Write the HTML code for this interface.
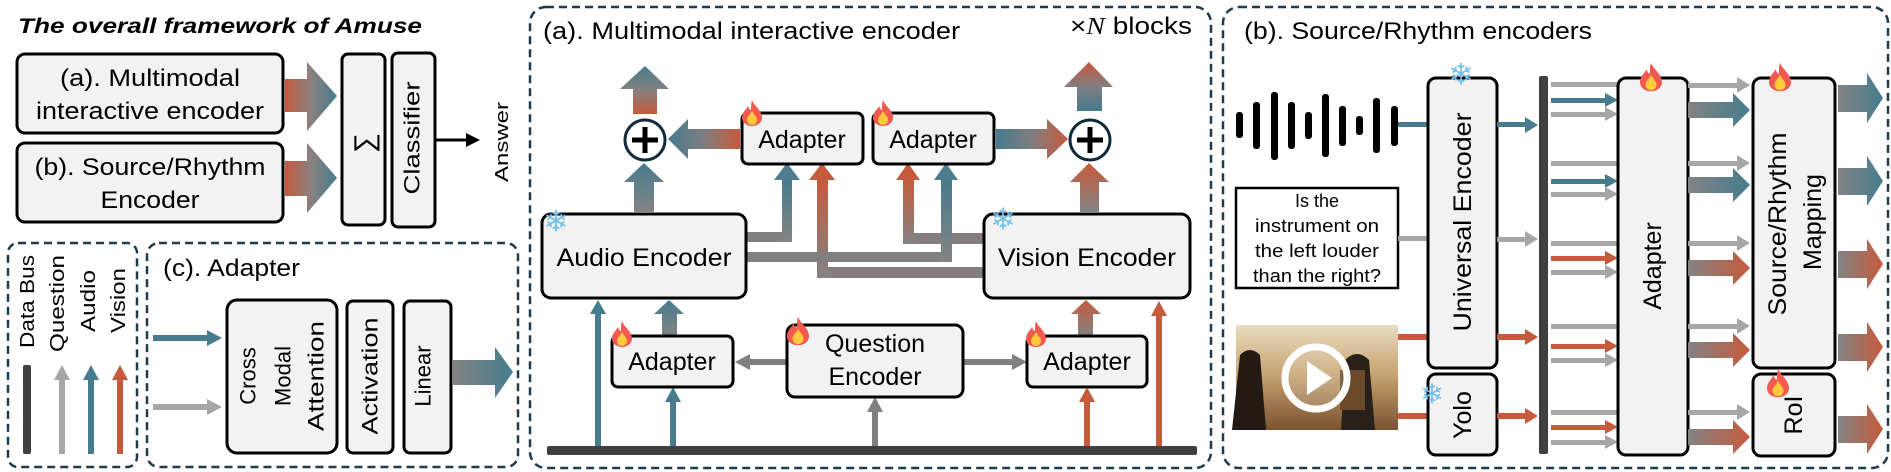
<!DOCTYPE html>
<html><head><meta charset="utf-8"><style>
html,body{margin:0;padding:0;background:#fff;}
svg{display:block;font-family:"Liberation Sans",sans-serif;}
</style></head><body>
<svg width="1891" height="472" viewBox="0 0 1891 472" xmlns="http://www.w3.org/2000/svg">
<defs>
<linearGradient id="hOT" x1="0" y1="0" x2="1" y2="0"><stop offset="0" stop-color="#c65a3c"/><stop offset="0.5" stop-color="#8a8080"/><stop offset="1" stop-color="#467c8e"/></linearGradient>
<linearGradient id="hGT" x1="0" y1="0" x2="1" y2="0"><stop offset="0" stop-color="#838383"/><stop offset="1" stop-color="#467c8e"/></linearGradient>
<linearGradient id="hGO" x1="0" y1="0" x2="1" y2="0"><stop offset="0" stop-color="#838383"/><stop offset="1" stop-color="#c65a3c"/></linearGradient>
<linearGradient id="hTO" x1="0" y1="0" x2="1" y2="0"><stop offset="0" stop-color="#467c8e"/><stop offset="0.5" stop-color="#7f7d80"/><stop offset="1" stop-color="#c65a3c"/></linearGradient>
<linearGradient id="vGT" x1="0" y1="1" x2="0" y2="0"><stop offset="0" stop-color="#838383"/><stop offset="1" stop-color="#467c8e"/></linearGradient>
<linearGradient id="vGO" x1="0" y1="1" x2="0" y2="0"><stop offset="0" stop-color="#838383"/><stop offset="1" stop-color="#c65a3c"/></linearGradient>
<linearGradient id="vOT" x1="0" y1="1" x2="0" y2="0"><stop offset="0" stop-color="#c65a3c"/><stop offset="0.5" stop-color="#868080"/><stop offset="1" stop-color="#467c8e"/></linearGradient>
<linearGradient id="vTO" x1="0" y1="1" x2="0" y2="0"><stop offset="0" stop-color="#467c8e"/><stop offset="0.5" stop-color="#807d80"/><stop offset="1" stop-color="#c65a3c"/></linearGradient>
<linearGradient id="vid" x1="0" y1="0" x2="0" y2="1"><stop offset="0" stop-color="#e8dcc0"/><stop offset="0.45" stop-color="#c9a674"/><stop offset="1" stop-color="#7a5330"/></linearGradient>
<symbol id="fire" viewBox="0 0 20 26"><path d="M10 0 C12 6 20 10 20 18 A10 8 0 0 1 0 18 C0 12 4 10 6 6 C7 9 8 10 9 10 C9 6 9 3 10 0Z" fill="#f25a50"/><path d="M10 11 C12 15 15 17 15 20 A5 5 0 0 1 5 20 C5 17 8 15 10 11Z" fill="#ffc93c"/></symbol>
</defs>

<text x="18" y="33" font-size="21" font-weight="bold" font-style="italic" textLength="404" lengthAdjust="spacingAndGlyphs">The overall framework of Amuse</text>
<rect x="17" y="54" width="266" height="79" rx="8" fill="#f2f2f2" stroke="#000" stroke-width="3"/>
<text x="150" y="86" font-size="24" text-anchor="middle" textLength="180" lengthAdjust="spacingAndGlyphs">(a). Multimodal</text>
<text x="150" y="119" font-size="24" text-anchor="middle" textLength="228" lengthAdjust="spacingAndGlyphs">interactive encoder</text>
<rect x="17" y="143" width="266" height="79" rx="8" fill="#f2f2f2" stroke="#000" stroke-width="3"/>
<text x="150" y="175" font-size="24" text-anchor="middle" textLength="231" lengthAdjust="spacingAndGlyphs">(b). Source/Rhythm</text>
<text x="150" y="208" font-size="24" text-anchor="middle" textLength="99" lengthAdjust="spacingAndGlyphs">Encoder</text>
<polygon points="285,79 307,79 307,62 337,96 307,131 307,112 285,112" fill="url(#hOT)"/>
<polygon points="285,161 307,161 307,143 337,178 307,213 307,196 285,196" fill="url(#hOT)"/>
<rect x="342" y="54" width="43" height="171" rx="6" fill="#f2f2f2" stroke="#000" stroke-width="3"/>
<text x="364" y="143" font-size="28" text-anchor="middle" dominant-baseline="central" transform="rotate(-90 364 143)">∑</text>
<rect x="392" y="53" width="43" height="174" rx="6" fill="#f2f2f2" stroke="#000" stroke-width="3"/>
<text x="412" y="138" font-size="22" text-anchor="middle" dominant-baseline="central" transform="rotate(-90 412 138)" textLength="113" lengthAdjust="spacingAndGlyphs">Classifier</text>
<line x1="435" y1="140" x2="468" y2="140" stroke="#000" stroke-width="3"/>
<polygon points="466,133 480,140 466,147" fill="#000"/>
<text x="502" y="142" font-size="18" text-anchor="middle" dominant-baseline="central" transform="rotate(-90 502 142)" textLength="80" lengthAdjust="spacingAndGlyphs">Answer</text>

<rect x="8" y="243" width="129" height="224" rx="10" fill="none" stroke="#1f3b4d" stroke-width="2.5" stroke-dasharray="8 5"/>
<text x="28" y="348" font-size="20" dominant-baseline="central" transform="rotate(-90 28 348)" textLength="93" lengthAdjust="spacingAndGlyphs">Data Bus</text>
<text x="58" y="352" font-size="20" dominant-baseline="central" transform="rotate(-90 58 352)" textLength="97" lengthAdjust="spacingAndGlyphs">Question</text>
<text x="89" y="332" font-size="20" dominant-baseline="central" transform="rotate(-90 89 332)" textLength="62" lengthAdjust="spacingAndGlyphs">Audio</text>
<text x="119" y="333" font-size="20" dominant-baseline="central" transform="rotate(-90 119 333)" textLength="65" lengthAdjust="spacingAndGlyphs">Vision</text>
<rect x="23" y="365" width="8" height="89" rx="2" fill="#404040"/>
<rect x="59" y="378" width="6" height="76" fill="#a6a6a6"/><polygon points="54,380 62,365 70,380" fill="#a6a6a6"/>
<rect x="88" y="378" width="6" height="76" fill="#467c8e"/><polygon points="83,380 91,365 99,380" fill="#467c8e"/>
<rect x="117" y="378" width="6" height="76" fill="#c65a3c"/><polygon points="112,380 120,365 128,380" fill="#c65a3c"/>

<rect x="147" y="243" width="371" height="224" rx="12" fill="none" stroke="#1f3b4d" stroke-width="2.5" stroke-dasharray="8 5"/>
<text x="163" y="276" font-size="24" textLength="137" lengthAdjust="spacingAndGlyphs">(c). Adapter</text>
<rect x="153" y="335" width="56" height="6" fill="#467c8e"/><polygon points="207,330 222,338 207,346" fill="#467c8e"/>
<rect x="153" y="404" width="56" height="6" fill="#a6a6a6"/><polygon points="207,399 222,407 207,415" fill="#a6a6a6"/>
<rect x="227" y="300" width="110" height="153" rx="10" fill="#f2f2f2" stroke="#000" stroke-width="3"/>
<text x="248" y="376" font-size="22" text-anchor="middle" dominant-baseline="central" transform="rotate(-90 248 376)">Cross</text>
<text x="283" y="376" font-size="22" text-anchor="middle" dominant-baseline="central" transform="rotate(-90 283 376)">Modal</text>
<text x="316" y="376" font-size="22" text-anchor="middle" dominant-baseline="central" transform="rotate(-90 316 376)" textLength="110" lengthAdjust="spacingAndGlyphs">Attention</text>
<rect x="347" y="301" width="46" height="152" rx="6" fill="#f2f2f2" stroke="#000" stroke-width="3"/>
<text x="370" y="376" font-size="22" text-anchor="middle" dominant-baseline="central" transform="rotate(-90 370 376)" textLength="117" lengthAdjust="spacingAndGlyphs">Activation</text>
<rect x="404" y="301" width="47" height="152" rx="6" fill="#f2f2f2" stroke="#000" stroke-width="3"/>
<text x="423" y="376" font-size="22" text-anchor="middle" dominant-baseline="central" transform="rotate(-90 423 376)">Linear</text>
<polygon points="453,360 495,360 495,347 513,372 495,398 495,385 453,385" fill="url(#hGT)"/>

<rect x="530" y="7" width="681" height="461" rx="16" fill="none" stroke="#1f3b4d" stroke-width="2.5" stroke-dasharray="8 5"/>
<text x="543" y="39" font-size="24" textLength="417" lengthAdjust="spacingAndGlyphs">(a). Multimodal interactive encoder</text>
<text x="1070" y="34" font-size="24" textLength="122" lengthAdjust="spacingAndGlyphs">×<tspan font-family="Liberation Serif" font-style="italic">N</tspan> blocks</text>

<rect x="817" y="267" width="167" height="11" fill="#857d7d"/>
<rect x="817" y="178" width="11" height="100" fill="url(#vGO)"/><polygon points="809,180 822,163 835,180" fill="#c65a3c"/>
<rect x="746" y="232" width="46" height="10" fill="#808080"/>
<rect x="782" y="178" width="10" height="64" fill="url(#vGT)"/><polygon points="774,180 787,163 800,180" fill="#4d7d8e"/>
<rect x="903" y="233" width="81" height="11" fill="#857d7d"/>
<rect x="903" y="178" width="11" height="66" fill="url(#vGO)"/><polygon points="896,180 908,163 920,180" fill="#c65a3c"/>
<rect x="746" y="252" width="206" height="10" fill="#808080"/>
<rect x="941" y="178" width="11" height="84" fill="url(#vGT)"/><polygon points="934,180 946,163 958,180" fill="#4d7d8e"/>

<rect x="542" y="214" width="204" height="84" rx="9" fill="#f2f2f2" stroke="#000" stroke-width="3"/>
<text x="644" y="258" font-size="25" text-anchor="middle" dominant-baseline="central" textLength="175" lengthAdjust="spacingAndGlyphs">Audio Encoder</text>
<text x="556" y="222" font-size="30" fill="#74c0ea" text-anchor="middle" dominant-baseline="central" font-family="DejaVu Sans">❄</text>
<rect x="984" y="214" width="206" height="84" rx="9" fill="#f2f2f2" stroke="#000" stroke-width="3"/>
<text x="1087" y="258" font-size="25" text-anchor="middle" dominant-baseline="central" textLength="178" lengthAdjust="spacingAndGlyphs">Vision Encoder</text>
<text x="1003" y="220" font-size="30" fill="#74c0ea" text-anchor="middle" dominant-baseline="central" font-family="DejaVu Sans">❄</text>

<polygon points="634,212 634,182 624,182 644,163 664,182 654,182 654,212" fill="url(#vGT)"/>
<polygon points="1080,212 1080,182 1070,182 1089,163 1109,182 1099,182 1099,212" fill="url(#vGO)"/>
<polygon points="633,114 633,89 620,89 645,66 669,89 657,89 657,114" fill="url(#vOT)"/>
<polygon points="1077,111 1077,87 1064,87 1089,62 1113,87 1102,87 1102,111" fill="url(#vTO)"/>
<polygon points="740,129 688,129 688,119 668,139 688,159 688,149 740,149" fill="url(#hTO)"/>
<polygon points="996,129 1047,129 1047,119 1068,139 1047,159 1047,149 996,149" fill="url(#hTO)"/>
<circle cx="645" cy="140" r="20" fill="#fff" stroke="#0f2a38" stroke-width="3"/>
<path d="M645 127 V153 M632 140 H658" stroke="#000" stroke-width="5"/>
<circle cx="1090" cy="140" r="20" fill="#fff" stroke="#0f2a38" stroke-width="3"/>
<path d="M1090 127 V153 M1077 140 H1103" stroke="#000" stroke-width="5"/>

<rect x="742" y="113" width="121" height="51" rx="6" fill="#f2f2f2" stroke="#000" stroke-width="3"/>
<text x="802" y="140" font-size="25" text-anchor="middle" dominant-baseline="central">Adapter</text>
<rect x="873" y="113" width="121" height="51" rx="6" fill="#f2f2f2" stroke="#000" stroke-width="3"/>
<text x="933" y="140" font-size="25" text-anchor="middle" dominant-baseline="central">Adapter</text>
<use href="#fire" x="742" y="99" width="20" height="28"/>
<use href="#fire" x="873" y="99" width="20" height="28"/>

<rect x="547" y="446" width="650" height="9" rx="2" fill="#404040"/>
<rect x="595" y="312" width="6" height="134" fill="#467c8e"/><polygon points="590,314 598,300 606,314" fill="#467c8e"/>
<rect x="670" y="400" width="6" height="46" fill="#467c8e"/><polygon points="665,402 673,387 681,402" fill="#467c8e"/>
<polygon points="662,336 662,314 654,314 669,300 684,314 677,314 677,336" fill="url(#vGT)"/>
<rect x="612" y="336" width="121" height="51" rx="6" fill="#f2f2f2" stroke="#000" stroke-width="3"/>
<text x="672" y="362" font-size="25" text-anchor="middle" dominant-baseline="central">Adapter</text>
<use href="#fire" x="612" y="320" width="20" height="28"/>
<rect x="872" y="410" width="6" height="36" fill="#808080"/><polygon points="867,412 875,397 883,412" fill="#808080"/>
<rect x="748" y="359" width="40" height="6" fill="#808080"/><polygon points="750,354 735,362 750,370" fill="#808080"/>
<rect x="963" y="359" width="50" height="6" fill="#808080"/><polygon points="1012,354 1027,362 1012,370" fill="#808080"/>
<rect x="787" y="325" width="176" height="72" rx="8" fill="#f2f2f2" stroke="#000" stroke-width="3"/>
<text x="875" y="344" font-size="25" text-anchor="middle" dominant-baseline="central">Question</text>
<text x="875" y="377" font-size="25" text-anchor="middle" dominant-baseline="central">Encoder</text>
<use href="#fire" x="787" y="316" width="22" height="30"/>
<polygon points="1078,336 1078,314 1071,314 1086,300 1101,314 1093,314 1093,336" fill="url(#vGO)"/>
<rect x="1027" y="336" width="120" height="51" rx="6" fill="#f2f2f2" stroke="#000" stroke-width="3"/>
<text x="1087" y="362" font-size="25" text-anchor="middle" dominant-baseline="central">Adapter</text>
<use href="#fire" x="1026" y="320" width="20" height="28"/>
<rect x="1084" y="400" width="6" height="46" fill="#c65a3c"/><polygon points="1079,402 1087,387 1095,402" fill="#c65a3c"/>
<rect x="1156" y="314" width="6" height="132" fill="#c65a3c"/><polygon points="1151,316 1159,301 1167,316" fill="#c65a3c"/>

<rect x="1223" y="7" width="665" height="461" rx="16" fill="none" stroke="#1f3b4d" stroke-width="2.5" stroke-dasharray="8 5"/>
<text x="1244" y="39" font-size="24" textLength="348" lengthAdjust="spacingAndGlyphs">(b). Source/Rhythm encoders</text>

<g fill="#000">
<rect x="1236" y="112" width="7" height="26" rx="3"/>
<rect x="1253" y="102" width="7" height="47" rx="3"/>
<rect x="1271" y="92" width="7" height="68" rx="3"/>
<rect x="1288" y="102" width="7" height="47" rx="3"/>
<rect x="1305" y="112" width="7" height="27" rx="3"/>
<rect x="1322" y="94" width="7" height="63" rx="3"/>
<rect x="1339" y="106" width="7" height="40" rx="3"/>
<rect x="1356" y="116" width="7" height="19" rx="3"/>
<rect x="1373" y="98" width="7" height="55" rx="3"/>
<rect x="1391" y="106" width="7" height="40" rx="3"/>
</g>
<rect x="1398" y="122" width="30" height="5" fill="#467c8e"/>
<rect x="1236" y="188" width="162" height="100" fill="#fff" stroke="#000" stroke-width="2.5"/>
<text x="1317" y="207" font-size="18" text-anchor="middle">Is the</text>
<text x="1317" y="232" font-size="18" text-anchor="middle" textLength="124" lengthAdjust="spacingAndGlyphs">instrument on</text>
<text x="1317" y="257" font-size="18" text-anchor="middle" textLength="124" lengthAdjust="spacingAndGlyphs">the left louder</text>
<text x="1317" y="282" font-size="18" text-anchor="middle" textLength="128" lengthAdjust="spacingAndGlyphs">than the right?</text>
<rect x="1398" y="236" width="30" height="5" fill="#a6a6a6"/>
<rect x="1236" y="325" width="162" height="105" fill="url(#vid)"/>
<path d="M1240 355 q10 -10 20 0 l6 75 h-34z" fill="#241a14"/>
<path d="M1345 360 q12 -12 24 0 l6 70 h-34z" fill="#2a201a"/>
<rect x="1340" y="370" width="25" height="40" fill="#6b4a2a"/>
<circle cx="1316" cy="378" r="31" fill="rgba(255,255,255,0.15)" stroke="#fff" stroke-width="7"/>
<polygon points="1307,361 1332,378 1307,395" fill="#fff"/>
<rect x="1398" y="334" width="30" height="6" fill="#c65a3c"/>
<rect x="1398" y="413" width="30" height="6" fill="#c65a3c"/>

<rect x="1428" y="78" width="69" height="290" rx="8" fill="#f2f2f2" stroke="#000" stroke-width="3"/>
<text x="1463" y="222" font-size="25" text-anchor="middle" dominant-baseline="central" transform="rotate(-90 1463 222)" textLength="219" lengthAdjust="spacingAndGlyphs">Universal Encoder</text>
<text x="1461" y="75" font-size="30" fill="#74c0ea" text-anchor="middle" dominant-baseline="central" font-family="DejaVu Sans">❄</text>
<rect x="1428" y="374" width="69" height="81" rx="8" fill="#f2f2f2" stroke="#000" stroke-width="3"/>
<text x="1463" y="415" font-size="25" text-anchor="middle" dominant-baseline="central" transform="rotate(-90 1463 415)">Yolo</text>
<text x="1432" y="394" font-size="28" fill="#74c0ea" text-anchor="middle" dominant-baseline="central" font-family="DejaVu Sans">❄</text>

<rect x="1497" y="122" width="28" height="5" fill="#467c8e"/><polygon points="1525,117 1538,125 1525,133" fill="#467c8e"/>
<rect x="1497" y="237" width="28" height="5" fill="#a6a6a6"/><polygon points="1525,231 1538,239 1525,247" fill="#a6a6a6"/>
<rect x="1497" y="334" width="28" height="6" fill="#c65a3c"/><polygon points="1525,329 1538,337 1525,345" fill="#c65a3c"/>
<rect x="1497" y="413" width="28" height="6" fill="#c65a3c"/><polygon points="1525,408 1538,416 1525,424" fill="#c65a3c"/>
<rect x="1539" y="76" width="9" height="378" rx="2" fill="#404040"/>

<g>
<rect x="1551" y="82" width="67" height="5" fill="#a6a6a6"/>
<rect x="1551" y="98" width="55" height="5" fill="#467c8e"/><polygon points="1605,93 1618,100 1605,107" fill="#467c8e"/>
<rect x="1551" y="112" width="55" height="5" fill="#a6a6a6"/><polygon points="1605,107 1618,114 1605,121" fill="#a6a6a6"/>
<rect x="1551" y="161" width="67" height="5" fill="#a6a6a6"/>
<rect x="1551" y="179" width="55" height="5" fill="#467c8e"/><polygon points="1605,174 1618,181 1605,188" fill="#467c8e"/>
<rect x="1551" y="192" width="55" height="5" fill="#a6a6a6"/><polygon points="1605,187 1618,194 1605,201" fill="#a6a6a6"/>
<rect x="1551" y="241" width="67" height="5" fill="#a6a6a6"/>
<rect x="1551" y="256" width="55" height="5" fill="#c65a3c"/><polygon points="1605,251 1618,258 1605,265" fill="#c65a3c"/>
<rect x="1551" y="270" width="55" height="5" fill="#a6a6a6"/><polygon points="1605,265 1618,272 1605,279" fill="#a6a6a6"/>
<rect x="1551" y="324" width="67" height="5" fill="#a6a6a6"/>
<rect x="1551" y="344" width="55" height="5" fill="#c65a3c"/><polygon points="1605,339 1618,346 1605,353" fill="#c65a3c"/>
<rect x="1551" y="358" width="55" height="5" fill="#a6a6a6"/><polygon points="1605,353 1618,360 1605,367" fill="#a6a6a6"/>
<rect x="1551" y="410" width="67" height="5" fill="#a6a6a6"/>
<rect x="1551" y="425" width="55" height="5" fill="#c65a3c"/><polygon points="1605,420 1618,427 1605,434" fill="#c65a3c"/>
<rect x="1551" y="440" width="55" height="5" fill="#a6a6a6"/><polygon points="1605,435 1618,442 1605,449" fill="#a6a6a6"/>
</g>

<rect x="1618" y="78" width="70" height="377" rx="8" fill="#f2f2f2" stroke="#000" stroke-width="3"/>
<text x="1653" y="266" font-size="25" text-anchor="middle" dominant-baseline="central" transform="rotate(-90 1653 266)">Adapter</text>
<use href="#fire" x="1640" y="62" width="22" height="30"/>

<g>
<rect x="1688" y="83" width="50" height="5" fill="#a6a6a6"/><polygon points="1737,77 1750,85 1737,93" fill="#a6a6a6"/>
<polygon points="1688,102 1733,102 1733,93 1750,110 1733,127 1733,118 1688,118" fill="url(#hGT)"/>
<rect x="1688" y="161" width="50" height="5" fill="#a6a6a6"/><polygon points="1737,155 1750,163 1737,171" fill="#a6a6a6"/>
<polygon points="1688,177 1733,177 1733,168 1750,185 1733,202 1733,193 1688,193" fill="url(#hGT)"/>
<rect x="1688" y="241" width="50" height="5" fill="#a6a6a6"/><polygon points="1737,235 1750,243 1737,251" fill="#a6a6a6"/>
<polygon points="1688,260 1733,260 1733,251 1750,268 1733,285 1733,276 1688,276" fill="url(#hGO)"/>
<rect x="1688" y="324" width="50" height="5" fill="#a6a6a6"/><polygon points="1737,318 1750,326 1737,334" fill="#a6a6a6"/>
<polygon points="1688,342 1733,342 1733,333 1750,350 1733,367 1733,358 1688,358" fill="url(#hGO)"/>
<rect x="1688" y="410" width="50" height="5" fill="#a6a6a6"/><polygon points="1737,404 1750,412 1737,420" fill="#a6a6a6"/>
<polygon points="1688,429 1733,429 1733,420 1750,437 1733,454 1733,445 1688,445" fill="url(#hGO)"/>
</g>

<rect x="1753" y="78" width="82" height="290" rx="8" fill="#f2f2f2" stroke="#000" stroke-width="3"/>
<text x="1778" y="224" font-size="25" text-anchor="middle" dominant-baseline="central" transform="rotate(-90 1778 224)" textLength="183" lengthAdjust="spacingAndGlyphs">Source/Rhythm</text>
<text x="1813" y="222" font-size="25" text-anchor="middle" dominant-baseline="central" transform="rotate(-90 1813 222)">Mapping</text>
<use href="#fire" x="1769" y="62" width="22" height="30"/>
<rect x="1753" y="374" width="82" height="82" rx="8" fill="#f2f2f2" stroke="#000" stroke-width="3"/>
<text x="1794" y="415" font-size="25" text-anchor="middle" dominant-baseline="central" transform="rotate(-90 1794 415)">RoI</text>
<use href="#fire" x="1767" y="368" width="22" height="30"/>

<polygon points="1838,85 1867,85 1867,73 1883,98 1867,123 1867,112 1838,112" fill="url(#hGT)"/>
<polygon points="1838,168 1867,168 1867,156 1883,181 1867,206 1867,195 1838,195" fill="url(#hGT)"/>
<polygon points="1838,251 1867,251 1867,239 1883,264 1867,289 1867,278 1838,278" fill="url(#hGO)"/>
<polygon points="1838,334 1867,334 1867,322 1883,347 1867,372 1867,361 1838,361" fill="url(#hGO)"/>
<polygon points="1838,416 1867,416 1867,404 1883,429 1867,454 1867,443 1838,443" fill="url(#hGO)"/>
</svg>
</body></html>
